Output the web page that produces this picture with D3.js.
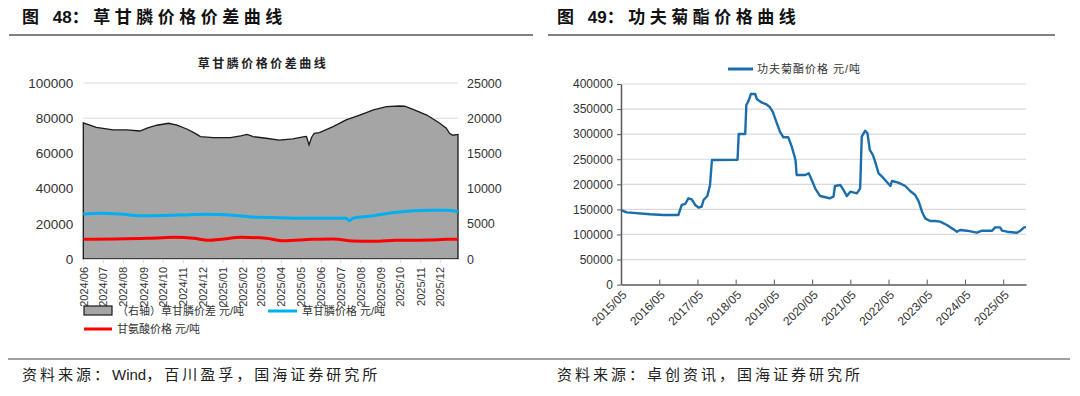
<!DOCTYPE html>
<html>
<head>
<meta charset="utf-8">
<script src="https://cdn.jsdelivr.net/npm/d3@7"></script>
<style>
    body { margin: 0; background: #fff; }
    svg { display: block; }
    text { font-family: "Liberation Sans", Arial, "Noto Sans CJK SC", sans-serif; }
</style>
</head>
<body>
<svg id="page" width="1080" height="396"></svg>
<script>
// ---- 图48 草甘膦价格价差 ----
const spreadDates = [
    '2024-06-01', '2024-06-21', '2024-07-17', '2024-08-07', '2024-08-27', '2024-09-07',
    '2024-09-22', '2024-10-10', '2024-10-23', '2024-11-08', '2024-11-20', '2024-11-28',
    '2024-12-18', '2025-01-13', '2025-01-29', '2025-02-08', '2025-02-17', '2025-03-09',
    '2025-03-29', '2025-04-19', '2025-05-07', '2025-05-10', '2025-05-14', '2025-05-18',
    '2025-05-22', '2025-05-30', '2025-06-20', '2025-07-10', '2025-07-31', '2025-08-21',
    '2025-09-10', '2025-09-30', '2025-10-08', '2025-10-21', '2025-11-11', '2025-12-01',
    '2025-12-11', '2025-12-16', '2025-12-21', '2025-12-29',
]
const spreadValues = [
    19350, 18700, 18330, 18330, 18180, 18580,
    19000, 19280, 19030, 18430, 17850, 17380,
    17230, 17230, 17480, 17700, 17380, 17150,
    16900, 17050, 17380, 17400, 16200, 17300,
    17850, 17950, 18800, 19750, 20450, 21180,
    21630, 21730, 21700, 21250, 20450, 19280,
    18580, 17850, 17580, 17700,
]

const glyphosateDates = [
    '2024-06-01', '2024-06-26', '2024-07-27', '2024-08-27', '2024-10-28', '2024-12-08',
    '2025-01-13', '2025-02-17', '2025-03-29', '2025-05-09', '2025-06-20', '2025-07-10',
    '2025-07-15', '2025-07-20', '2025-08-21', '2025-09-25', '2025-11-16', '2025-12-11',
    '2025-12-29',
]
const glyphosateValues = [
    25570, 25950, 25570, 24600, 25000, 25380,
    25000, 23860, 23470, 23100, 23100, 23100,
    21780, 23100, 24600, 26500, 27650, 27650,
    26900,
]

const glycineDates = [
    '2024-06-01', '2024-07-17', '2024-09-07', '2024-10-18', '2024-11-18', '2024-12-10',
    '2025-01-03', '2025-01-29', '2025-03-09', '2025-04-04', '2025-05-20', '2025-06-20',
    '2025-07-20', '2025-08-21', '2025-09-25', '2025-11-16', '2025-12-11', '2025-12-29',
]
const glycineValues = [
    11170, 11360, 11740, 12310, 11740, 10600,
    11360, 12310, 11740, 10420, 11170, 11360,
    10230, 10040, 10610, 10800, 11170, 11170,
]

const monthTicks = [
    '2024/06', '2024/07', '2024/08', '2024/09', '2024/10', '2024/11', '2024/12',
    '2025/01', '2025/02', '2025/03', '2025/04', '2025/05', '2025/06', '2025/07',
    '2025/08', '2025/09', '2025/10', '2025/11', '2025/12',
]
const leftTicks = [0, 20000, 40000, 60000, 80000, 100000]
const rightTicks = [0, 5000, 10000, 15000, 20000, 25000]

// ---- 图49 功夫菊酯价格 ----
const cyhaloDates = [
    '2015-05-01', '2015-06-25', '2016-02-03', '2016-06-10', '2016-10-30', '2016-12-02',
    '2017-01-04', '2017-02-03', '2017-03-07', '2017-04-09', '2017-05-12', '2017-06-10',
    '2017-06-28', '2017-08-03', '2017-08-29', '2017-09-16', '2018-05-19', '2018-05-30',
    '2018-07-31', '2018-08-11', '2018-09-02', '2018-09-24', '2018-11-03', '2018-11-21',
    '2019-01-08', '2019-02-14', '2019-03-20', '2019-04-20', '2019-05-30', '2019-06-28',
    '2019-07-31', '2019-09-16', '2019-10-19', '2019-11-24', '2019-12-05', '2020-02-24',
    '2020-03-29', '2020-04-20', '2020-05-30', '2020-07-16', '2020-10-15', '2020-11-21',
    '2020-12-05', '2021-01-26', '2021-02-24', '2021-03-29', '2021-05-01', '2021-07-02',
    '2021-08-03', '2021-08-18', '2021-09-20', '2021-10-12', '2021-11-03', '2021-12-02',
    '2021-12-24', '2022-01-26', '2022-02-28', '2022-03-29', '2022-05-19', '2022-06-03',
    '2022-08-03', '2022-10-08', '2022-11-24', '2023-01-11', '2023-02-14', '2023-03-17',
    '2023-04-16', '2023-06-03', '2023-07-20', '2023-09-06', '2023-11-10', '2024-01-11',
    '2024-02-14', '2024-03-17', '2024-05-19', '2024-08-22', '2024-10-12', '2025-01-15',
    '2025-02-14', '2025-04-01', '2025-04-20', '2025-06-07', '2025-09-09', '2025-10-12',
    '2025-11-17', '2025-12-05',
]
const cyhaloValues = [
    148500, 144000, 140200, 138800, 138800, 158800,
    160800, 172100, 170100, 158800, 153400, 155400,
    168700, 176600, 198600, 248500, 249000, 300200,
    300200, 358000, 366800, 380100, 380100, 369500,
    362800, 360100, 354800, 344800, 321600, 305000,
    293700, 293700, 275000, 248500, 218600, 218600,
    221900, 211900, 192000, 176600, 172100, 175300,
    196600, 198600, 188700, 176600, 185300, 182000,
    192000, 294900, 306900, 301700, 268400, 258500,
    245100, 221900, 215300, 208600, 196600, 206600,
    203300, 196600, 186600, 178700, 165400, 145400,
    132100, 126800, 126800, 125500, 118900, 110200,
    105500, 108800, 107500, 103500, 107500, 107500,
    114200, 114200, 107500, 105500, 103500, 107500,
    114200, 114500,
]
const yearTicks = [
    '2015/05', '2016/05', '2017/05', '2018/05', '2019/05', '2020/05',
    '2021/05', '2022/05', '2023/05', '2024/05', '2025/05',
]
const priceTicks = [0, 50000, 100000, 150000, 200000, 250000, 300000, 350000, 400000]

const parseDay = d3.timeParse('%Y-%m-%d')
const parseMonth = d3.timeParse('%Y/%m')
const zip = (dates, values) => dates.map((d, i) => ({ date: parseDay(d), value: values[i] }))

const svg = d3.select('#page')
const GRID = '#d9d9d9'
const CJK = '"Noto Sans CJK SC", sans-serif'

// text made of pieces: CJK pieces are spaced out, latin/digits stay tight
function spacedText(sel, parts, spacing) {
    sel.selectAll('tspan')
        .data(parts)
        .join('tspan')
        .attr('letter-spacing', d => /[A-Za-z0-9]/.test(d) ? 0 : spacing)
        .text(d => d)
    return sel
}

// page header / footer
function header(x, x1, x2, parts) {
    const t = svg.append('text')
        .attr('x', x)
        .attr('y', 17)
        .attr('dominant-baseline', 'central')
        .attr('font-size', 17)
        .attr('font-weight', 'bold')
        .attr('fill', '#111')
    spacedText(t, parts, 4.5)
    svg.append('line')
        .attr('x1', x1).attr('x2', x2)
        .attr('y1', 35).attr('y2', 35)
        .attr('stroke', '#808080')
        .attr('stroke-width', 2)
}

header(22, 9, 533, ['图 ', '48', '：草甘膦价格价差曲线'])
header(557, 548, 1055, ['图 ', '49', '：功夫菊酯价格曲线'])

svg.append('line')
    .attr('x1', 8).attr('x2', 1070)
    .attr('y1', 359).attr('y2', 359)
    .attr('stroke', '#808080')
    .attr('stroke-width', 1.5)

const sources = [
    { x: 22, parts: ['资料来源：', 'Wind', '，百川盈孚，国海证券研究所'] },
    { x: 557, parts: ['资料来源：卓创资讯，国海证券研究所'] },
]
for (const s of sources) {
    const t = svg.append('text')
        .attr('x', s.x)
        .attr('y', 374)
        .attr('dominant-baseline', 'central')
        .attr('font-size', 15)
        .attr('fill', '#222')
    spacedText(t, s.parts, 3)
}

// ---------- left chart ----------
{
    const spread = zip(spreadDates, spreadValues)
    const glyphosate = zip(glyphosateDates, glyphosateValues)
    const glycine = zip(glycineDates, glycineValues)

    const x = d3.scaleTime()
        .domain([spread[0].date, spread[spread.length - 1].date])
        .range([83.3, 458])
    const yL = d3.scaleLinear().domain([0, 100000]).range([259, 83])
    const yR = d3.scaleLinear().domain([0, 25000]).range([259, 83])

    const g = svg.append('g')

    g.append('text')
        .attr('x', 263)
        .attr('y', 64)
        .attr('text-anchor', 'middle')
        .attr('dominant-baseline', 'central')
        .attr('font-family', CJK)
        .attr('font-size', 12)
        .attr('font-weight', 'bold')
        .attr('letter-spacing', 2.5)
        .attr('fill', '#222')
        .text('草甘膦价格价差曲线')

    // gridlines
    g.append('g')
        .selectAll('line')
        .data(leftTicks)
        .join('line')
        .attr('x1', x.range()[0])
        .attr('x2', x.range()[1])
        .attr('y1', d => yL(d))
        .attr('y2', d => yL(d))
        .attr('stroke', GRID)

    // spread area (right axis)
    const area = d3.area()
        .x(d => x(d.date))
        .y0(yR(0))
        .y1(d => yR(d.value))
    g.append('path')
        .datum(spread)
        .attr('d', area)
        .attr('fill', '#a5a5a5')
        .attr('stroke', '#1a1a1a')
        .attr('stroke-width', 1.3)

    const line = yScale => d3.line()
        .x(d => x(d.date))
        .y(d => yScale(d.value))
        .curve(d3.curveMonotoneX)

    g.append('path')
        .datum(glyphosate)
        .attr('d', line(yL))
        .attr('fill', 'none')
        .attr('stroke', '#00b0f0')
        .attr('stroke-width', 3)

    g.append('path')
        .datum(glycine)
        .attr('d', line(yL))
        .attr('fill', 'none')
        .attr('stroke', '#ff0000')
        .attr('stroke-width', 3)

    // axes
    const yLeftAxis = g.append('g')
        .attr('transform', `translate(${x.range()[0]},0)`)
        .call(d3.axisLeft(yL).tickValues(leftTicks).tickSize(0).tickPadding(10).tickFormat(d3.format('d')))
    const yRightAxis = g.append('g')
        .attr('transform', `translate(${x.range()[1]},0)`)
        .call(d3.axisRight(yR).tickValues(rightTicks).tickSize(0).tickPadding(9).tickFormat(d3.format('d')))
    for (const ax of [yLeftAxis, yRightAxis]) {
        ax.select('.domain').remove()
        ax.selectAll('text')
            .attr('font-family', null)
            .attr('fill', '#333')
    }
    yLeftAxis.selectAll('text').attr('font-size', 13.5)
    yRightAxis.selectAll('text').attr('font-size', 12.5)

    const xAxis = g.append('g')
        .attr('transform', `translate(0,${yL(0)})`)
        .call(d3.axisBottom(x)
            .tickValues(monthTicks.map(parseMonth))
            .tickFormat(d3.timeFormat('%Y/%m'))
            .tickSizeInner(4)
            .tickSizeOuter(0))
    xAxis.select('.domain').attr('stroke', GRID)
    xAxis.selectAll('line').attr('stroke', GRID)
    xAxis.selectAll('text')
        .attr('font-family', null)
        .attr('font-size', 11)
        .attr('fill', '#333')
        .attr('x', -8)
        .attr('y', 0)
        .attr('dy', '0.35em')
        .attr('transform', 'rotate(-90)')
        .style('text-anchor', 'end')

    // legend
    const lg = g.append('g')
        .attr('font-family', CJK)
        .attr('font-size', 11)
        .attr('fill', '#333')
    lg.append('rect')
        .attr('x', 84).attr('y', 306)
        .attr('width', 28).attr('height', 9)
        .attr('fill', '#a5a5a5')
        .attr('stroke', '#1a1a1a')
        .attr('stroke-width', 1.2)
    lg.append('text')
        .attr('x', 117).attr('y', 311)
        .attr('dominant-baseline', 'central')
        .text('（右轴）草甘膦价差 元/吨')
    lg.append('line')
        .attr('x1', 268).attr('x2', 297)
        .attr('y1', 311).attr('y2', 311)
        .attr('stroke', '#00b0f0')
        .attr('stroke-width', 3)
    lg.append('text')
        .attr('x', 302).attr('y', 311)
        .attr('dominant-baseline', 'central')
        .text('草甘膦价格 元/吨')
    lg.append('line')
        .attr('x1', 84).attr('x2', 112)
        .attr('y1', 329).attr('y2', 329)
        .attr('stroke', '#ff0000')
        .attr('stroke-width', 3)
    lg.append('text')
        .attr('x', 117).attr('y', 329)
        .attr('dominant-baseline', 'central')
        .text('甘氨酸价格 元/吨')
}

// ---------- right chart ----------
{
    const cyhalo = zip(cyhaloDates, cyhaloValues)

    const x = d3.scaleTime()
        .domain([cyhalo[0].date, cyhalo[cyhalo.length - 1].date])
        .range([621, 1026])
    const y = d3.scaleLinear().domain([0, 400000]).range([284.6, 84])

    const g = svg.append('g')

    g.append('g')
        .selectAll('line')
        .data(priceTicks.slice(1))
        .join('line')
        .attr('x1', x.range()[0])
        .attr('x2', x.range()[1])
        .attr('y1', d => y(d))
        .attr('y2', d => y(d))
        .attr('stroke', GRID)
        .attr('stroke-width', 1.2)

    g.append('path')
        .datum(cyhalo)
        .attr('d', d3.line().x(d => x(d.date)).y(d => y(d.value)))
        .attr('fill', 'none')
        .attr('stroke', '#1c6dab')
        .attr('stroke-width', 2.4)
        .attr('stroke-linejoin', 'round')

    const yAxis = g.append('g')
        .attr('transform', `translate(${x.range()[0]},0)`)
        .call(d3.axisLeft(y).tickValues(priceTicks).tickSizeInner(4).tickSizeOuter(0).tickPadding(4).tickFormat(d3.format('d')))
    yAxis.select('.domain').attr('stroke', '#595959').attr('stroke-width', 1.5)
    yAxis.selectAll('line').attr('stroke', '#595959')
    yAxis.selectAll('text')
        .attr('font-family', null)
        .attr('font-size', 12)
        .attr('fill', '#333')

    const xAxis = g.append('g')
        .attr('transform', `translate(0,${y(0)})`)
        .call(d3.axisBottom(x)
            .tickValues(yearTicks.map(parseMonth))
            .tickFormat(d3.timeFormat('%Y/%m'))
            .tickSizeInner(-5)
            .tickSizeOuter(0))
    xAxis.select('.domain').attr('stroke', '#595959').attr('stroke-width', 1.5)
    xAxis.selectAll('line').attr('stroke', '#595959')
    xAxis.selectAll('text')
        .attr('font-family', null)
        .attr('font-size', 12)
        .attr('fill', '#333')
        .attr('x', 0)
        .attr('y', 0)
        .attr('dy', '0.35em')
        .attr('transform', 'translate(3,8) rotate(-45)')
        .style('text-anchor', 'end')

    // legend
    g.append('line')
        .attr('x1', 728).attr('x2', 753)
        .attr('y1', 69).attr('y2', 69)
        .attr('stroke', '#1c6dab')
        .attr('stroke-width', 3)
    g.append('text')
        .attr('x', 757).attr('y', 69)
        .attr('dominant-baseline', 'central')
        .attr('font-family', CJK)
        .attr('font-size', 11)
        .attr('letter-spacing', 1)
        .attr('fill', '#333')
        .text('功夫菊酯价格 元/吨')
}
</script>
</body>
</html>
